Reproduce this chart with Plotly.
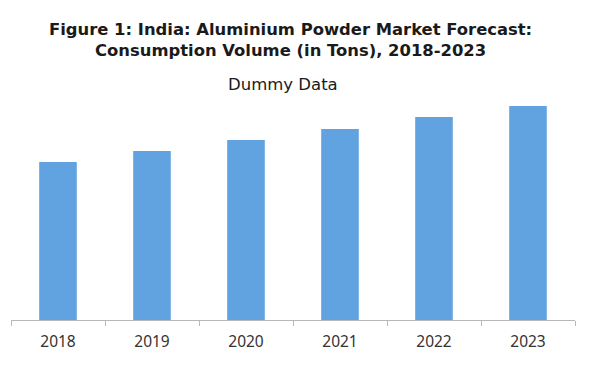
import plotly.graph_objects as go

years = ["2018", "2019", "2020", "2021", "2022", "2023"]
volume = [158, 169, 180, 191, 203, 214]

title_line1 = "Figure 1: India: Aluminium Powder Market Forecast:"
title_line2 = "Consumption Volume (in Tons), 2018-2023"
subtitle = "Dummy Data"

OFF = 8  # default page body margin
W, H = 590 - OFF, 377 - OFF
# plot area in page pixels
left, right, top, bottom = 11, 575, 100, 320


def py(p):
    return (bottom - p) / (bottom - top)


def px(p):
    return (p - left) / (right - left)


fig = go.Figure(
    go.Bar(
        x=years,
        y=volume,
        marker=dict(color="#60a3e0", line=dict(width=0)),
        width=0.4,
        hoverinfo="x+y",
    )
)

fig.update_layout(
    width=W,
    height=H,
    margin=dict(l=left - OFF, r=W - (right - OFF), t=top - OFF, b=H - (bottom - OFF), pad=0),
    paper_bgcolor="white",
    plot_bgcolor="white",
    showlegend=False,
    font=dict(family="Noto Sans", color="#333333"),
    xaxis=dict(
        type="category",
        showline=True,
        linecolor="#b8b8b8",
        linewidth=1,
        ticks="outside",
        tickson="boundaries",
        ticklen=5,
        tickcolor="#b8b8b8",
        ticklabelstandoff=7,
        tickfont=dict(family="Noto Sans", size=15.5, color="#333333"),
        showgrid=False,
        zeroline=False,
    ),
    yaxis=dict(
        range=[0, 220],
        visible=False,
        showgrid=False,
        zeroline=False,
    ),
    annotations=[
        dict(text="<b>" + title_line1 + "</b>", x=px(290.5), xref="paper", y=py(29), yref="paper",
             xanchor="center", yanchor="middle", showarrow=False,
             font=dict(family="DejaVu Sans", size=16.4, color="#1a1a1a")),
        dict(text="<b>" + title_line2 + "</b>", x=px(290.5), xref="paper", y=py(50.5), yref="paper",
             xanchor="center", yanchor="middle", showarrow=False,
             font=dict(family="DejaVu Sans", size=16.4, color="#1a1a1a")),
        dict(text=subtitle, x=px(282.5), xref="paper", y=py(84.5), yref="paper",
             xanchor="center", yanchor="middle", showarrow=False,
             font=dict(family="DejaVu Sans", size=16.5, color="#1a1a1a")),
    ],
)

fig.write_html("out.html")
